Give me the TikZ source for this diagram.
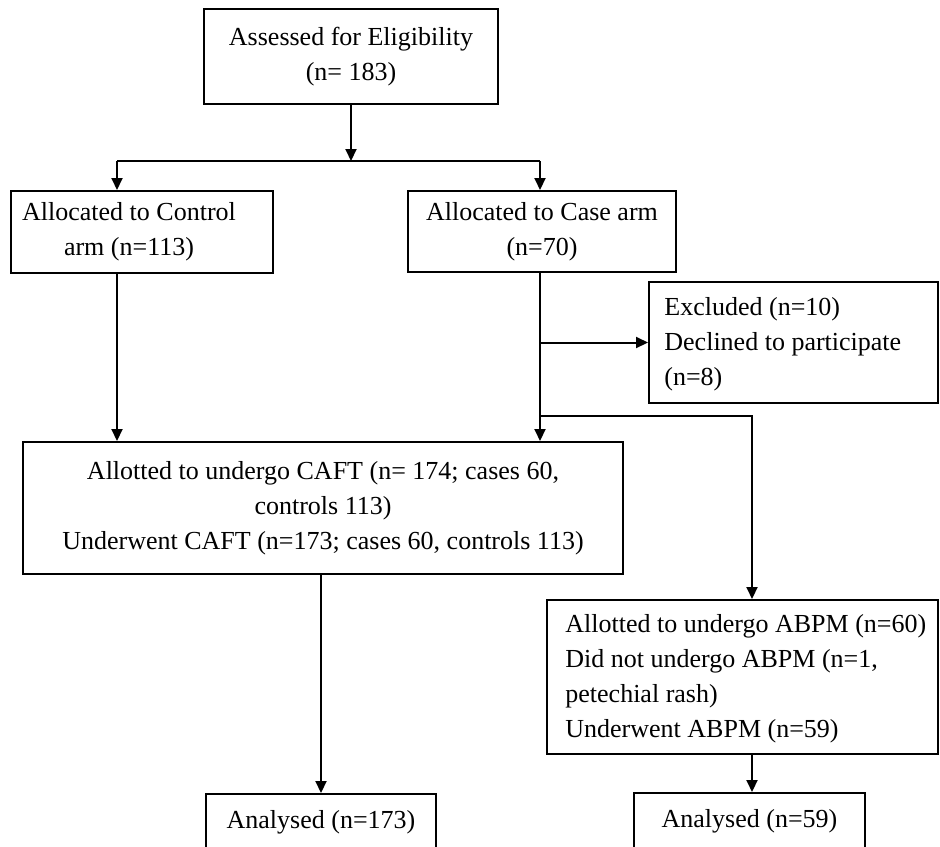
\documentclass[tikz,border=0pt]{standalone}
\usepackage{fontspec}
\setmainfont{Liberation Serif}
\usetikzlibrary{arrows.meta}
\tikzset{
  txtfont/.style={font=\fontsize{13}{17.5}\selectfont},
  box/.style={draw, line width=1pt, inner sep=0pt, align=center, txtfont},
  ltxt/.style={inner sep=0pt, align=left, anchor=west, txtfont},
  conn/.style={line width=1pt},
  arr/.style={conn, -{Triangle[length=6pt,width=5.5pt]}}
}
\begin{document}
\begin{tikzpicture}[x=0.5pt,y=-0.5pt]
\useasboundingbox (0,0) rectangle (940,846);
% boxes
\node[box, minimum width=147pt, minimum height=47.5pt] (top) at (351,56.5)
  {Assessed for Eligibility\\(n= 183)};
\node[box, minimum width=131pt, minimum height=41pt] (ctrl) at (142,232)
  {Allocated to Control\hspace*{13pt}\\arm (n=113)\hspace*{13pt}};
\node[box, minimum width=134pt, minimum height=40.5pt] (case) at (542,231.5)
  {Allocated to Case arm\\(n=70)};
\node[box, minimum width=144.5pt, minimum height=60.5pt] (excl) at (793.5,342.5) {};
\node[ltxt] (excltxt) at (664,344.5)
  {Excluded (n=10)\\Declined to participate\\(n=8)};
\node[box, minimum width=300pt, minimum height=66pt] (caft) at (323,508)
  {Allotted to undergo CAFT (n= 174; cases 60,\\controls 113)\\Underwent CAFT (n=173; cases 60, controls 113)};
\node[box, minimum width=195.5pt, minimum height=77pt] (abpm) at (742.5,677) {};
\node[ltxt] (abpmtxt) at (565,679)
  {Allotted to undergo ABPM (n=60)\\Did not undergo ABPM (n=1,\\petechial rash)\\Underwent ABPM (n=59)};
\node[box, minimum width=115pt, minimum height=28pt] (an1) at (321,822)
  {Analysed (n=173)};
\node[box, minimum width=115.5pt, minimum height=28.5pt] (an2) at (749.5,821.5)
  {Analysed (n=59)};
% junctions
\coordinate (jm) at (351,161);
\coordinate (jl) at (117,161);
\coordinate (jr) at (540,161);
\coordinate (ab) at (752,416);
% connectors
\draw[arr] (top.south) -- (jm);
\draw[conn] (jl) -- (jr);
\draw[arr] (jl) -- (jl |- ctrl.north);
\draw[arr] (jr) -- (jr |- case.north);
\draw[arr] (jl |- ctrl.south) -- (jl |- caft.north);
\draw[arr] (jr |- case.south) -- (jr |- caft.north);
\draw[arr] (excl.west -| jr) -- (excl.west);
\draw[arr] (ab -| jr) -- (ab) -- (ab |- abpm.north);
\draw[arr] (an1.north |- caft.south) -- (an1.north);
\draw[arr] (ab |- abpm.south) -- (ab |- an2.north);
\end{tikzpicture}
\end{document}
